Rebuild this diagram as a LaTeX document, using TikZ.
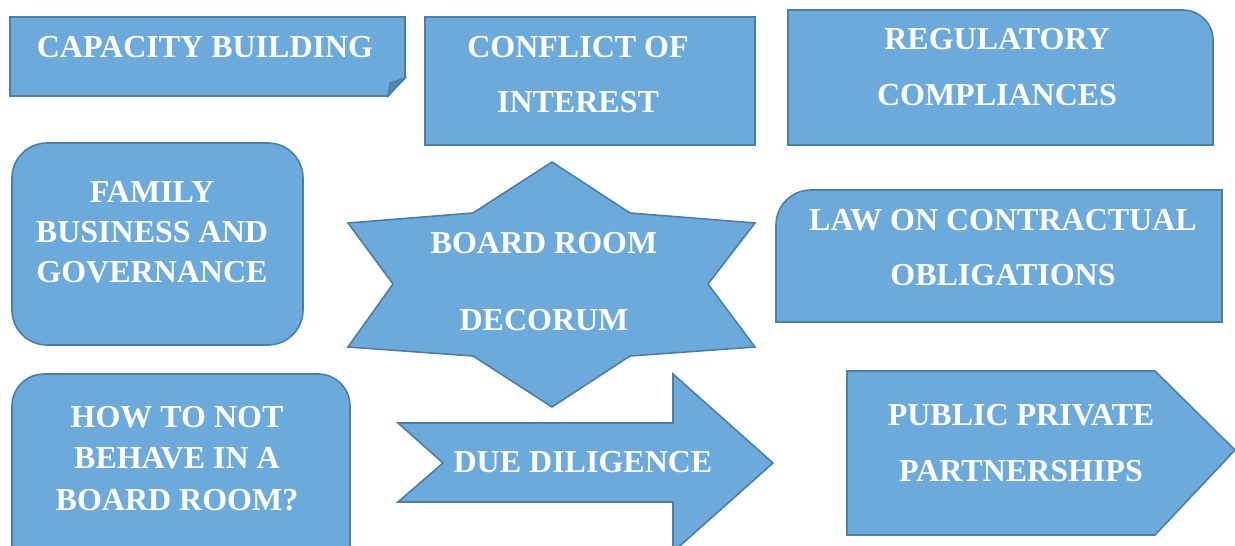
\documentclass[tikz,border=0pt]{standalone}
\usepackage{fontspec}
\setmainfont{Liberation Serif}
\usepackage{tikz}
\usetikzlibrary{positioning}

\definecolor{tilefill}{RGB}{107,170,218}
\definecolor{tileline}{RGB}{74,127,168}

\begin{document}
\begin{tikzpicture}[x=1pt, y=-1pt,
  tile/.style={fill=tilefill, draw=tileline, line width=1.6pt, line join=miter},
  fold/.style={fill=tileline!85!tilefill, draw=tileline, line width=1.2pt},
  caption/.style={inner sep=0pt, align=center, text=white, font=\fontsize{32}{56}\selectfont\bfseries}]
\useasboundingbox (0,0) rectangle (1235,546);

% top row
\draw[tile] (10,17) -- (405,17) -- (405,78) -- (388,96) -- (10,96) -- cycle;
\draw[fold] (405,78) -- (390,83) -- (388,96) -- cycle;
\node[caption] (capacity) at (205,47) {CAPACITY BUILDING};

\draw[tile] (425,17) rectangle (755,145);
\node[caption, font=\fontsize{32}{55}\selectfont\bfseries] (conflict) at (578,74.5) {CONFLICT OF\\INTEREST};

\draw[tile] (788,145) -- (788,10) -- (1183,10) arc (270:360:30) -- (1213,145) -- cycle;
\node[caption] (regulatory) at (997,67) {REGULATORY\\COMPLIANCES};

% middle row
\draw[tile, rounded corners=35pt] (12,143) rectangle (303,345);
\node[caption, font=\fontsize{32}{40}\selectfont\bfseries] (family) at (152,232) {FAMILY\\BUSINESS AND\\GOVERNANCE};

\draw[tile] (552,162) -- (630,213) -- (755,223) -- (708,284) -- (755,347) -- (630,356)
  -- (552,407) -- (473,356) -- (348,347) -- (393,284) -- (348,223) -- (473,213) -- cycle;
\node[caption, font=\fontsize{32}{77}\selectfont\bfseries] (decorum) at (544,281.5) {BOARD ROOM\\DECORUM};

\draw[tile] (1222,322) -- (1222,190) -- (811,190) arc (270:180:35) -- (776,322) -- cycle;
\node[caption, font=\fontsize{32}{55}\selectfont\bfseries] (contract) at (1003,247.5) {LAW ON CONTRACTUAL\\OBLIGATIONS};

% bottom row
\draw[tile, rounded corners=32pt] (12,374) rectangle (350,580);
\node[caption, font=\fontsize{32}{41.5}\selectfont\bfseries] (behave) at (177,458.5) {HOW TO NOT\\BEHAVE IN A\\BOARD ROOM?};

\draw[tile] (398,423) -- (673,423) -- (673,374) -- (773,463) -- (673,552) -- (673,502)
  -- (398,502) -- (443,463) -- cycle;
\node[caption] (diligence) at (583,462) {DUE DILIGENCE};

\draw[tile] (847,371) -- (1155,371) -- (1235,450) -- (1155,535) -- (847,535) -- cycle;
\node[caption] (partnership) at (1021,443) {PUBLIC PRIVATE\\PARTNERSHIPS};
\end{tikzpicture}
\end{document}
